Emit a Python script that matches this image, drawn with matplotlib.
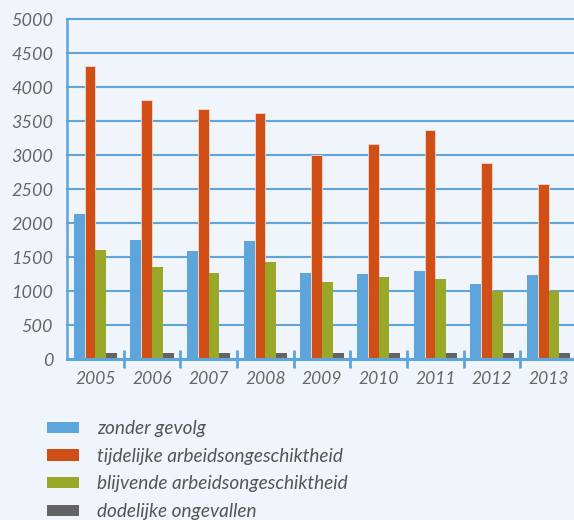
import numpy as np
import matplotlib
matplotlib.use("Agg")
import matplotlib.pyplot as plt
from matplotlib.patches import Patch

plt.rcParams['font.family'] = ['Lato', 'DejaVu Sans']
plt.rcParams['font.style'] = 'italic'

years = ['2005', '2006', '2007', '2008', '2009', '2010', '2011', '2012', '2013']
zonder_gevolg = [2130, 1750, 1590, 1730, 1270, 1250, 1300, 1100, 1235]
tijdelijk = [4310, 3810, 3670, 3620, 3000, 3160, 3370, 2880, 2570]
blijvend = [1600, 1355, 1265, 1425, 1130, 1210, 1180, 995, 995]
dodelijk = [85, 85, 85, 85, 85, 85, 85, 85, 85]

series_labels = ['zonder gevolg', 'tijdelijke arbeidsongeschiktheid',
                 'blijvende arbeidsongeschiktheid', 'dodelijke ongevallen']
colors = ['#5da5da', '#d04f17', '#9aa82a', '#646464']
bg = '#eff5fb'
axis_blue = '#5da5da'
text_grey = '#666666'

fig = plt.figure(figsize=(5.74, 5.2), dpi=100, facecolor=bg)
ax = fig.add_axes([67 / 574, 1 - 359 / 520, (577 - 67) / 574, (359 - 19) / 520])
ax.set_facecolor(bg)

x = np.arange(len(years))
w = 0.19
for i, vals in enumerate([zonder_gevolg, tijdelijk, blijvend, dodelijk]):
    ax.bar(x + (i - 1.5) * w, vals, width=w, color=colors[i],
           edgecolor='#f3d8cc' if i == 1 else 'none', linewidth=0.6, zorder=2)

ax.set_xlim(-0.5, len(years) - 0.5)
ax.set_ylim(0, 5000)
ax.set_yticks(np.arange(0, 5001, 500))
ax.yaxis.grid(True, color=axis_blue, linewidth=1.5, zorder=1)
ax.set_axisbelow(True)
for gl in ax.yaxis.get_gridlines():
    gl.set_clip_on(False)

ax.set_xticks(x)
ax.set_xticklabels(years)
ax.set_xticks(x + 0.5, minor=True)
ax.tick_params(axis='x', which='major', length=0, pad=9, labelsize=12.5,
               labelcolor=text_grey)
ax.tick_params(axis='x', which='minor', direction='inout', length=13,
               width=2, color=axis_blue)
ax.tick_params(axis='y', length=0, pad=10, labelsize=13, labelcolor=text_grey)

for s in ['top', 'right']:
    ax.spines[s].set_visible(False)
ax.spines['left'].set_color(axis_blue)
ax.spines['left'].set_linewidth(1.8)
ax.spines['bottom'].set_color(axis_blue)
ax.spines['bottom'].set_linewidth(2.2)
ax.spines['bottom'].set_zorder(3)

handles = [Patch(facecolor=c) for c in colors]
leg = fig.legend(handles, series_labels, loc='upper left',
                 bbox_to_anchor=(47 / 574, 1 - 420 / 520), frameon=False,
                 prop={'size': 13.7, 'style': 'italic'},
                 handlelength=1.68, handleheight=0.53, handletextpad=0.95,
                 labelspacing=0.56, borderaxespad=0, borderpad=0)
for t in leg.get_texts():
    t.set_color('#555555')

fig.savefig('out.png', dpi=100, facecolor=bg)
